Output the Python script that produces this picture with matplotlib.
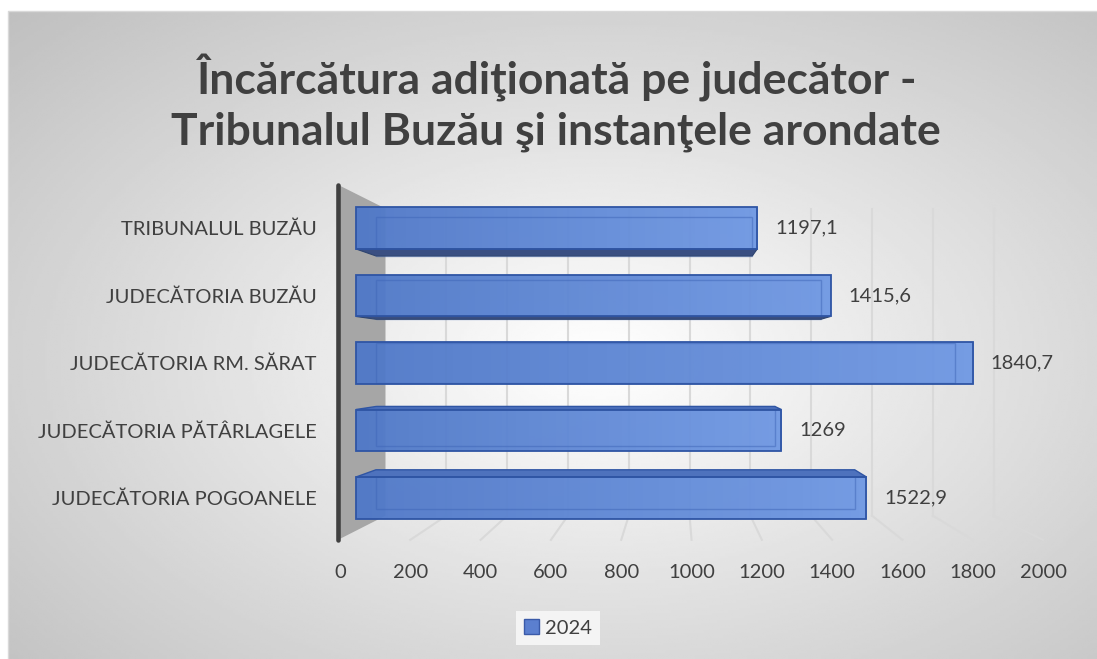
import numpy as np
import matplotlib
matplotlib.use('Agg')
import matplotlib.pyplot as plt
from matplotlib.colors import LinearSegmentedColormap
from matplotlib.patches import Patch, Polygon

plt.rcParams['font.family'] = ['Lato', 'DejaVu Sans']

# data
categories = ['TRIBUNALUL BUZĂU', 'JUDECĂTORIA BUZĂU', 'JUDECĂTORIA RM. SĂRAT',
              'JUDECĂTORIA PĂTÂRLAGELE', 'JUDECĂTORIA POGOANELE']
values = [1197.1, 1415.6, 1840.7, 1269, 1522.9]
series_name = '2024'
ticks = [0, 200, 400, 600, 800, 1000, 1200, 1400, 1600, 1800, 2000]
title_lines = ['Încărcătura adiţionată pe judecător -',
               'Tribunalul Buzău şi instanţele arondate']

W, H = 1097, 659
TXT = '#404040'

fig = plt.figure(figsize=(W / 100, H / 100), dpi=100)
fig.patch.set_facecolor('white')

# radial grey background
bg = fig.add_axes([0, 0, 1, 1], zorder=0)
xx, yy = np.meshgrid(np.linspace(8, W, 400), np.linspace(11, H, 260))
r = np.sqrt(((xx - 600) / 545) ** 2 + ((yy - 360) / 330) ** 2)
grey = np.clip(1 - 0.165 * r, 0, 1)
bg.imshow(grey, cmap='gray', vmin=0, vmax=1, extent=(8, W, H, 11), aspect='auto')
bg.plot([8, 8, W], [H, 11, 11], color='#d9d9d9', lw=1)
bg.set_xlim(0, W)
bg.set_ylim(H, 0)
bg.axis('off')

# main axes: x data 0 at px 356, 0.3352 px per unit; rows 67.5 px apart
px_per = 0.3352
xmin, xmax = -60, 2100
left_px = 356 + xmin * px_per
right_px = 356 + xmax * px_per
top_px, bot_px = 228 - 33.75, 228 + 4.5 * 67.5
ax = fig.add_axes([left_px / W, 1 - bot_px / H, (right_px - left_px) / W, (bot_px - top_px) / H], zorder=2)
ax.patch.set_alpha(0)
for s in ax.spines.values():
    s.set_visible(False)

# perspective helpers (front floor plane vs bar plane)
a_tick, b_tick = 0.35155 / px_per, -16 / px_per
vp = np.array([957.6, 1.97])
s_bar, s_wall = 0.938, 0.865


def back(pt, s):
    return vp + s * (np.array(pt) - vp)


floor_y = 4.62
wall_top = -0.64
wall_x = a_tick * 0 + b_tick - 6

# side wall
wtl, wbl = (wall_x, wall_top), (wall_x, floor_y)
btl, bbl = back((a_tick * 0 + b_tick, wall_top), s_wall), back((a_tick * 0 + b_tick, floor_y), s_wall)
ax.add_patch(Polygon([wtl, btl, bbl, wbl], closed=True, facecolor='#a6a6a6', edgecolor='none',
                     zorder=1, clip_on=False))
ax.plot([wall_x, wall_x], [wall_top, floor_y], color='#404040', lw=3.3, zorder=2,
        solid_capstyle='round', clip_on=False)

# back wall grid and floor lines
for t in ticks[1:]:
    fx = a_tick * t + b_tick
    top = back((fx, wall_top), s_wall)
    bot = back((fx, floor_y), s_wall)
    ax.plot([top[0], bot[0]], [top[1], bot[1]], color='#d9d9d9', lw=1.5, zorder=1, clip_on=False)
    ax.plot([bot[0], fx], [bot[1], floor_y], color='#d9d9d9', lw=1.5, zorder=1, clip_on=False)

# bars
ypos = np.arange(len(categories))
bh = 0.622
bars = ax.barh(ypos, values, height=bh, color='none', edgecolor='#2f55a4', lw=1.3, zorder=7)
grad = LinearSegmentedColormap.from_list('g', ['#4f78c8', '#6f98e3'])
for bar in bars:
    x0, w = bar.get_x(), bar.get_width()
    yt, yb = bar.get_y(), bar.get_y() + bar.get_height()
    x1 = x0 + w
    im = ax.imshow(np.linspace(0, 1, 64).reshape(1, -1), cmap=grad, aspect='auto',
                   extent=(x0, x1, yb, yt), zorder=5, alpha=0.95)
    im.set_clip_path(bar)
    b_tl, b_tr = back((x0, yt), s_bar), back((x1, yt), s_bar)
    b_bl, b_br = back((x0, yb), s_bar), back((x1, yb), s_bar)
    # back edges seen through the front face
    ax.add_patch(Polygon([b_tl, b_tr, b_br, b_bl], closed=True, facecolor='none',
                         edgecolor='#3f66b8', lw=1.0, alpha=0.5, zorder=6))
    if yb < vp[1]:
        ax.add_patch(Polygon([(x0, yb), (x1, yb), b_br, b_bl], closed=True,
                             facecolor='#3a4f82', edgecolor='#2f4570', lw=0.8, zorder=6))
    if yt > vp[1]:
        ax.add_patch(Polygon([(x0, yt), (x1, yt), b_tr, b_tl], closed=True,
                             facecolor='#4e72bd', edgecolor='#2f55a4', lw=1.0, zorder=6))

# data labels
for i, v in enumerate(values):
    ax.text(v + 53, i, f'{v:g}'.replace('.', ','), va='center', ha='left',
            fontsize=14.5, color=TXT, zorder=8)

ax.set_xlim(xmin, xmax)
ax.set_ylim(4.5, -0.5)
ax.set_xticks([])
ax.set_yticks(ypos, categories)
ax.tick_params(axis='y', length=0, pad=14, labelsize=14.5, labelcolor=TXT)

# axis labels on the front floor edge
sec = ax.secondary_xaxis(-(540 - bot_px) / (bot_px - top_px),
                         functions=(lambda d: (d - b_tick) / a_tick, lambda v: a_tick * v + b_tick))
sec.set_xticks(ticks)
sec.tick_params(length=0, pad=17, labelsize=14.5, labelcolor=TXT)
sec.spines['bottom'].set_visible(False)

# title
for k, line in enumerate(title_lines):
    fig.text(556 / W, 1 - (95 + 50 * k) / H, line, ha='center', va='baseline',
             fontsize=32, fontweight='bold', color=TXT)

# legend
fig.legend(handles=[Patch(facecolor='#5b7fcf', edgecolor='#3a5aa8', label=series_name)],
           loc='center', bbox_to_anchor=(558 / W, 1 - 628 / H), frameon=True,
           facecolor='#f4f4f4', edgecolor='none', framealpha=1, fancybox=False,
           handlelength=0.75, handleheight=0.75, handletextpad=0.3,
           prop={'size': 14.5}, labelcolor=TXT)

fig.savefig('out.png', dpi=100)
